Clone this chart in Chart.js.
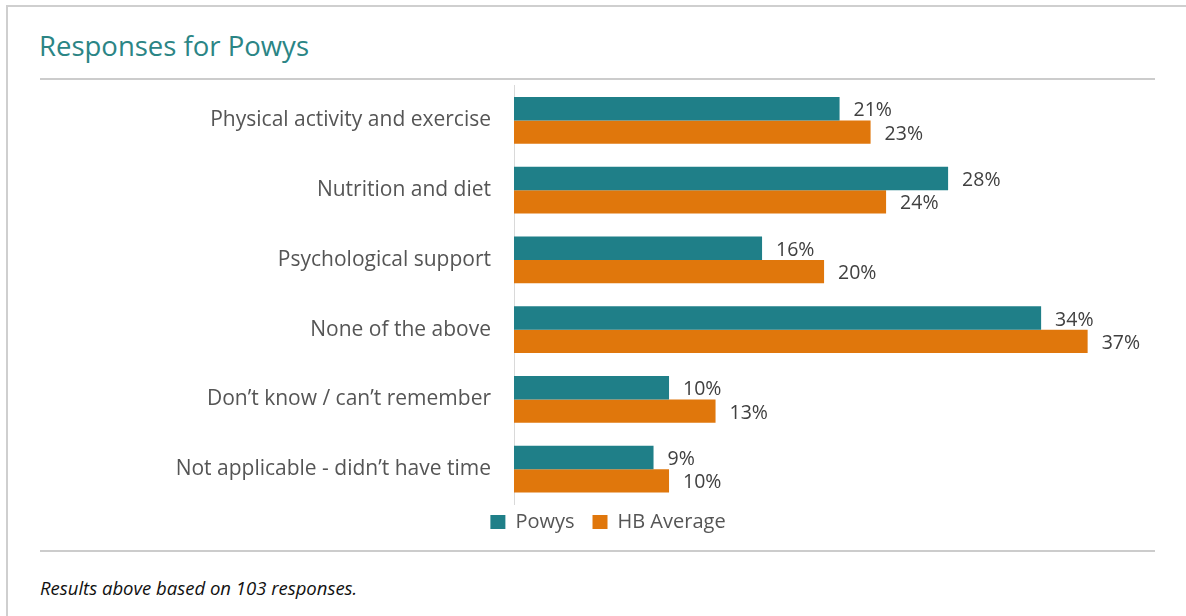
<!DOCTYPE html><html><head><title>Responses for Powys</title>
<style>
html,body{margin:0;padding:0;background:#fff;width:1186px;height:616px;overflow:hidden;font-family:"Open Sans",sans-serif}
#frame{position:absolute;left:6px;top:5px;width:1200px;height:700px;border-left:2px solid #cfcfcf;border-top:2px solid #cfcfcf}
#title{position:absolute;left:39px;top:27px;font-size:27.5px;color:#2b8585;white-space:nowrap}
.rule{position:absolute;left:40px;width:1115px;height:0;border-top:2px solid #cccccc}
#wrap{position:absolute;left:40px;top:50px;width:1136px;height:492px}
#note{position:absolute;left:40px;top:575px;font-size:18.5px;font-style:italic;color:#111}
</style>
<script src="https://cdn.jsdelivr.net/npm/chart.js"></script>
</head><body>
<div id="frame"></div>
<div id="title">Responses for Powys</div>
<div class="rule" style="top:78px"></div>
<div id="wrap"><canvas id="graph"></canvas></div>
<div class="rule" style="top:550px"></div>
<div id="note">Results above based on 103 responses.</div>
<script>
const categories = ['Physical activity and exercise', 'Nutrition and diet', 'Psychological support', 'None of the above', 'Don\u2019t know / can\u2019t remember', 'Not applicable - didn\u2019t have time'];
const powys = [21, 28, 16, 34, 10, 9];
const hbAverage = [23, 24, 20, 37, 13, 10];
const seriesNames = ['Powys', 'HB Average'];

const teal = '#1f7f88', orange = '#e0770c', textCol = '#555555';
const fontFam = '"Open Sans", sans-serif';

// percentage labels just right of each bar
const valueLabels = {
    id: 'valueLabels',
    afterDatasetsDraw(chart) {
        const ctx = chart.ctx;
        ctx.save();
        ctx.font = '19.5px ' + fontFam;
        ctx.fillStyle = '#404040';
        ctx.textBaseline = 'middle';
        ctx.textAlign = 'left';
        chart.data.datasets.forEach((ds, i) => {
            chart.getDatasetMeta(i).data.forEach((bar, j) => {
                ctx.fillText(ds.data[j] + '%', bar.x + 14, bar.y + 2);
            });
        });
        ctx.restore();
    }
};

new Chart(document.getElementById('graph'), {
    type: 'bar',
    data: {
        labels: categories,
        datasets: [
            { label: seriesNames[0], data: powys, backgroundColor: teal },
            { label: seriesNames[1], data: hbAverage, backgroundColor: orange }
        ]
    },
    options: {
        indexAxis: 'y',
        responsive: true,
        maintainAspectRatio: false,
        animation: false,
        layout: { padding: { top: 2, right: 0, bottom: 0, left: 0 } },
        datasets: { bar: { barPercentage: 1, categoryPercentage: 0.67 } },
        scales: {
            x: { min: 0, max: 42.7, display: false },
            y: {
                afterFit: s => { s.width = 474; },
                grid: { display: false, drawTicks: false },
                border: { display: true, color: '#d9d9d9', width: 1 },
                ticks: { padding: 23, color: textCol, font: { family: fontFam, size: 21 } }
            }
        },
        plugins: {
            legend: {
                position: 'bottom',
                labels: {
                    boxWidth: 15, boxHeight: 14, padding: 8, color: textCol, font: { family: fontFam, size: 20 },
                    // widen the gap after the first entry without growing the legend's height
                    generateLabels: chart => Chart.defaults.plugins.legend.labels.generateLabels(chart)
                        .map((it, i) => (i === 0 ? { ...it, text: it.text + '\u2002' } : it))
                }
            },
            tooltip: { enabled: false }
        }
    },
    plugins: [valueLabels]
});
</script>
</body></html>
